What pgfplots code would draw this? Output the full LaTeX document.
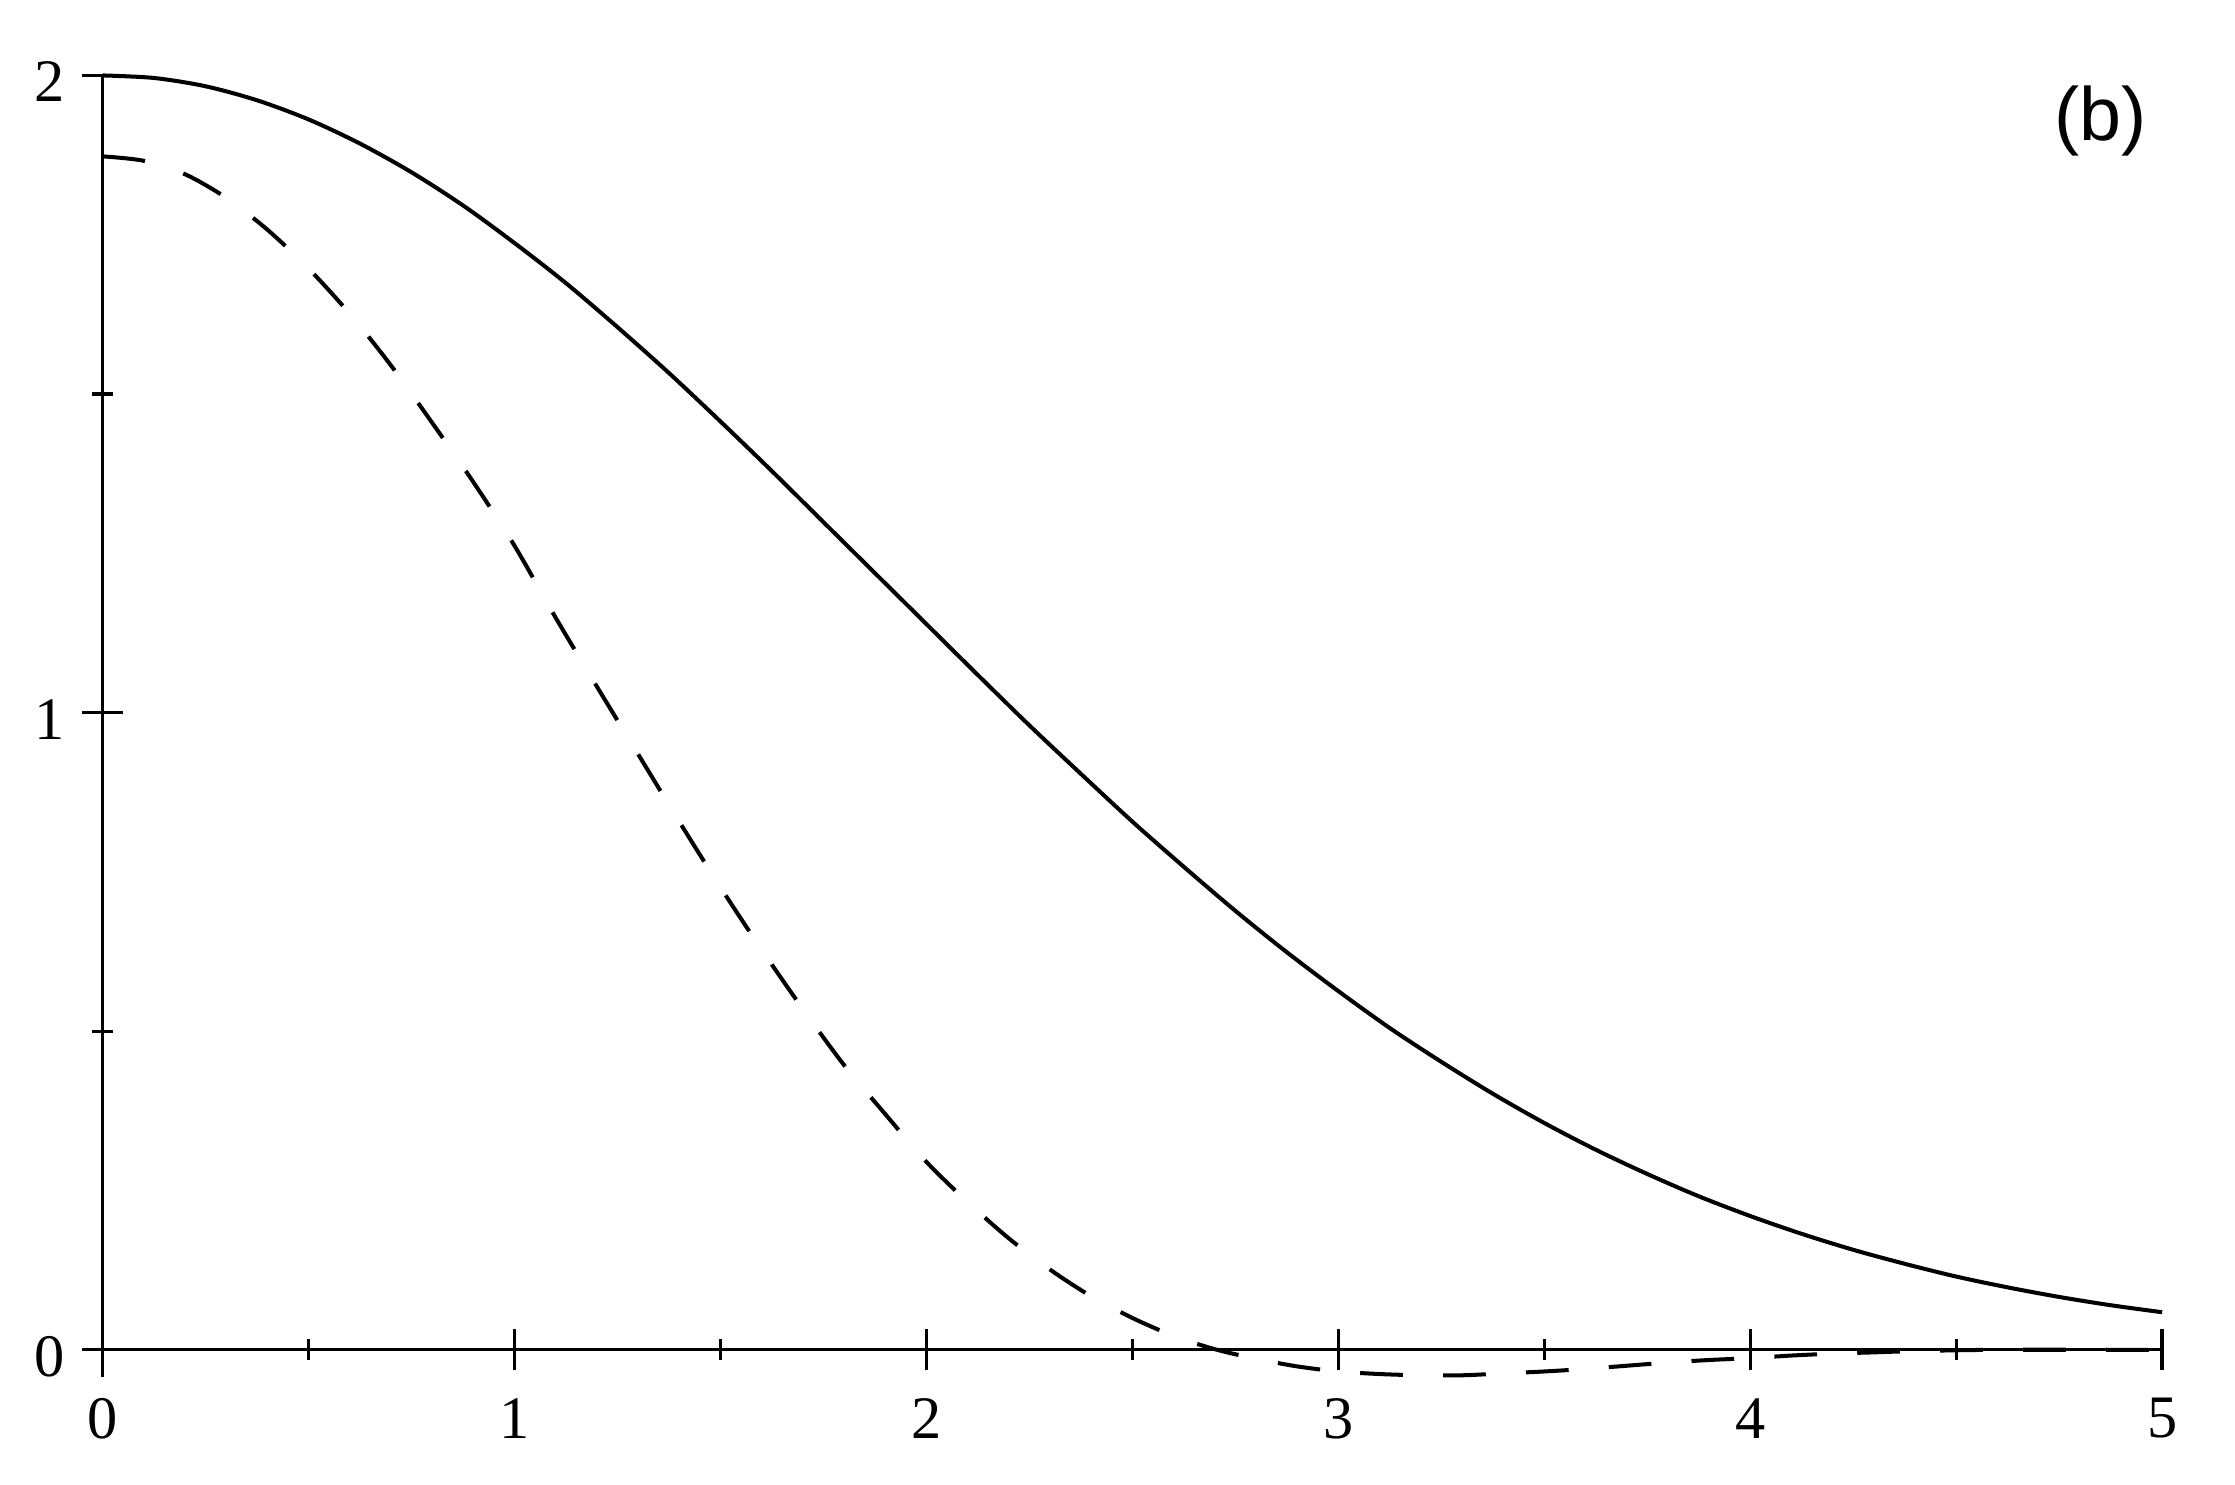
\documentclass[border=0pt]{standalone}
\usepackage{fontspec}
\setmainfont{Liberation Serif}
\newfontfamily\labelfont{Liberation Sans}
\usepackage{pgfplots}
\pgfplotsset{compat=1.18}

\begin{document}
\begin{tikzpicture}
\useasboundingbox (-20.4pt,-21.4pt) rectangle (424.1pt,273.9pt);
\begin{axis}[
    scale only axis, width=409.6pt, height=258.9pt,
    axis lines=middle, axis line style={-, line width=0.65pt},
    xmin=0, xmax=5, ymin=-0.043, ymax=2,
    enlargelimits=false, clip=false,
    xtick={0,1,2,3,4,5}, ytick={0,1,2},
    minor tick num=1,
    tick align=center,
    major tick length=8.1pt, minor tick length=4.2pt,
    every tick/.style={black, line width=0.65pt},
    hide obscured x ticks=false, hide obscured y ticks=false,
    /pgf/number format/assume math mode=true,
    tick label style={font=\fontsize{12}{14}\selectfont},
    xticklabel style={anchor=north, inner sep=0pt, yshift=-5.4pt},
    yticklabel style={anchor=east, inner sep=0pt, xshift=-3.3pt, yshift=-1.3pt},
]
% solid curve
\addplot[black, line width=0.8pt, smooth] coordinates {
(0,2.000) (0.125,1.996) (0.25,1.983) (0.375,1.961) (0.5,1.931) (0.625,1.893)
(0.75,1.848) (0.875,1.796) (1.0,1.737) (1.125,1.674) (1.25,1.605) (1.375,1.533)
(1.5,1.457) (1.625,1.379) (1.75,1.299) (1.875,1.219) (2.0,1.139) (2.125,1.059)
(2.25,0.980) (2.375,0.904) (2.5,0.829) (2.625,0.758) (2.75,0.689) (2.875,0.624)
(3.0,0.563) (3.125,0.505) (3.25,0.452) (3.375,0.402) (3.5,0.356) (3.625,0.314)
(3.75,0.276) (3.875,0.241) (4.0,0.210) (4.125,0.182) (4.25,0.157) (4.375,0.135)
(4.5,0.115) (4.625,0.098) (4.75,0.083) (4.875,0.070) (5.0,0.059)
};
% dashed curve
\addplot[black, line width=0.8pt, smooth, dash pattern=on 8.5pt off 8pt] coordinates {
(0,1.873) (0.1,1.866) (0.2,1.845) (0.3,1.808) (0.4,1.758) (0.5,1.697)
(0.6,1.626) (0.7,1.545) (0.8,1.455) (0.9,1.362) (1.0,1.262) (1.1,1.149)
(1.2,1.041) (1.3,0.935) (1.4,0.829) (1.5,0.726) (1.6,0.628) (1.7,0.535)
(1.8,0.447) (1.9,0.370) (2.0,0.295) (2.1,0.232) (2.2,0.175) (2.3,0.126)
(2.4,0.084) (2.5,0.050) (2.6,0.022) (2.7,0.001) (2.8,-0.014) (2.9,-0.026)
(3.0,-0.034) (3.1,-0.038) (3.2,-0.040) (3.3,-0.040) (3.4,-0.037) (3.5,-0.034)
(3.6,-0.030) (3.7,-0.025) (3.8,-0.020) (3.9,-0.016) (4.0,-0.013) (4.1,-0.009)
(4.2,-0.006) (4.3,-0.004) (4.4,-0.002) (4.6,0.000) (5.0,0.000)
};
\node[font=\labelfont\fontsize{15}{18}\selectfont] at (rel axis cs:0.970,0.965) {(b)};
\end{axis}
\end{tikzpicture}
\end{document}
